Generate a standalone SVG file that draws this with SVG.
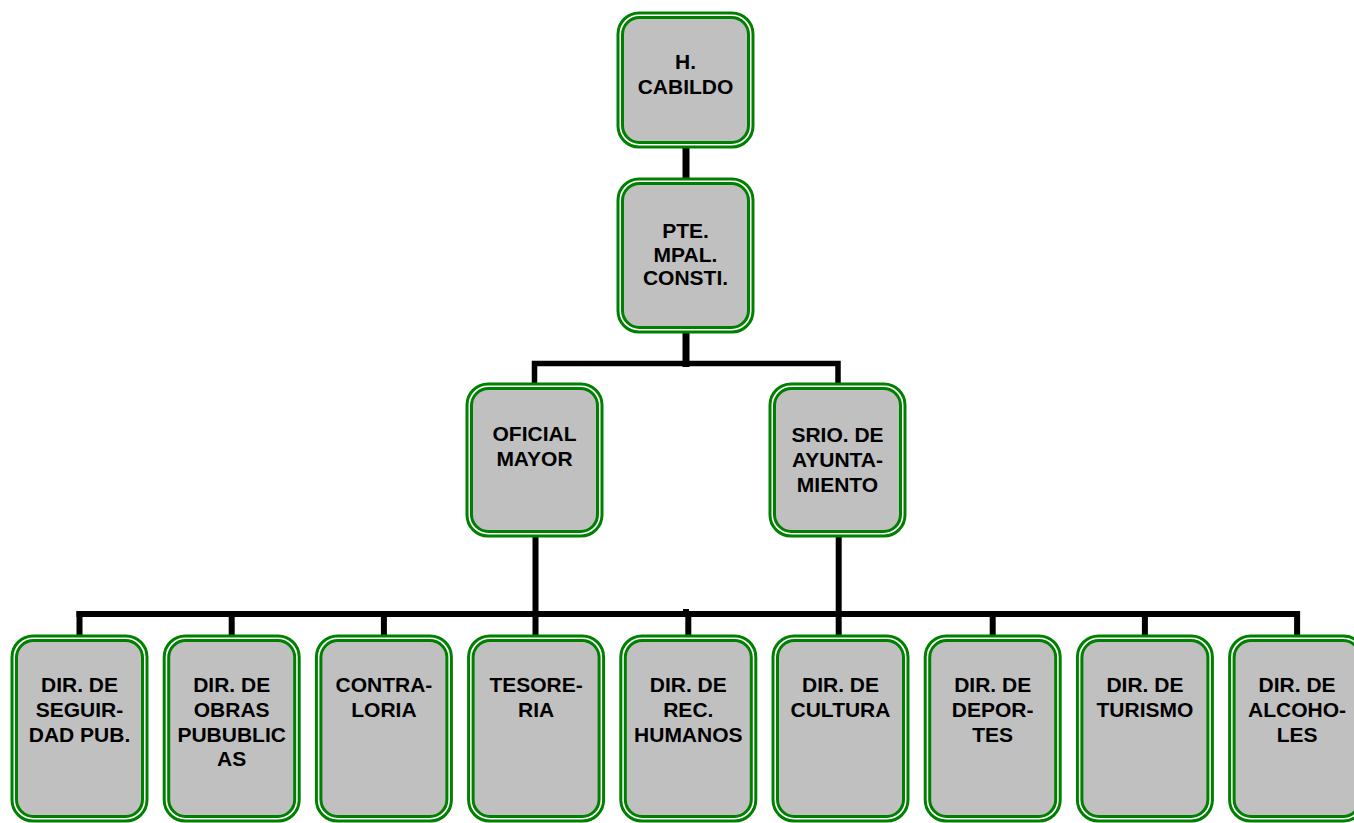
<svg xmlns="http://www.w3.org/2000/svg" width="1354" height="823" viewBox="0 0 1354 823">
<style>
.o{fill:#ffffff;stroke:#008000;stroke-width:3}
.i{fill:#c0c0c0;stroke:#008000;stroke-width:3}
.t{font-family:"Liberation Sans",Arial,sans-serif;font-weight:bold;font-size:21px;fill:#000;text-anchor:middle}
.c{stroke:#000;fill:none;stroke-linecap:butt}
</style>
<rect width="1354" height="823" fill="#fff"/>
<g id="connectors">
<line class="c" x1="686" y1="146" x2="686" y2="180" stroke-width="7"/>
<line class="c" x1="686" y1="331" x2="686" y2="367" stroke-width="7"/>
<polyline class="c" points="534.5,385 534.5,363.5 838,363.5 838,385" stroke-width="5.5"/>
<line class="c" x1="535.5" y1="535" x2="535.5" y2="637" stroke-width="6"/>
<line class="c" x1="838.7" y1="535" x2="838.7" y2="637" stroke-width="6"/>
<line class="c" x1="76.5" y1="614" x2="1300" y2="614" stroke-width="6"/>
<rect x="683" y="609" width="6" height="6" fill="#000"/>
<line class="c" x1="79.5" y1="611" x2="79.5" y2="637" stroke-width="6"/>
<line class="c" x1="231.7" y1="611" x2="231.7" y2="637" stroke-width="6"/>
<line class="c" x1="383.9" y1="611" x2="383.9" y2="637" stroke-width="6"/>
<line class="c" x1="688.3" y1="611" x2="688.3" y2="637" stroke-width="6"/>
<line class="c" x1="992.7" y1="611" x2="992.7" y2="637" stroke-width="6"/>
<line class="c" x1="1144.9" y1="611" x2="1144.9" y2="637" stroke-width="6"/>
<line class="c" x1="1297.1" y1="611" x2="1297.1" y2="637" stroke-width="6"/>
</g>
<g id="cabildo">
<rect class="o" x="618" y="13" width="135" height="134" rx="21"/>
<rect class="i" x="622.5" y="17.5" width="126" height="125" rx="17"/>
<text class="t" x="685.5" y="69">H.</text>
<text class="t" x="685.5" y="94">CABILDO</text>
</g>
<g id="pte">
<rect class="o" x="618" y="179" width="135" height="153" rx="21"/>
<rect class="i" x="622.5" y="183.5" width="126" height="144" rx="17"/>
<text class="t" x="685.5" y="238">PTE.</text>
<text class="t" x="685.5" y="261.5">MPAL.</text>
<text class="t" x="685.5" y="285">CONSTI.</text>
</g>
<g id="oficial">
<rect class="o" x="467" y="384" width="135" height="152" rx="21"/>
<rect class="i" x="471.5" y="388.5" width="126" height="143" rx="17"/>
<text class="t" x="534.5" y="441">OFICIAL</text>
<text class="t" x="534.5" y="466">MAYOR</text>
</g>
<g id="srio">
<rect class="o" x="770" y="384" width="135" height="152" rx="21"/>
<rect class="i" x="774.5" y="388.5" width="126" height="143" rx="17"/>
<text class="t" x="837.5" y="442">SRIO. DE</text>
<text class="t" x="837.5" y="467">AYUNTA-</text>
<text class="t" x="837.5" y="492">MIENTO</text>
</g>
<g id="seguridad">
<rect class="o" x="12" y="636" width="135" height="185" rx="21"/>
<rect class="i" x="16.5" y="640.5" width="126" height="176" rx="17"/>
<text class="t" x="79.5" y="692">DIR. DE</text>
<text class="t" x="79.5" y="717">SEGUIR-</text>
<text class="t" x="79.5" y="742">DAD PUB.</text>
</g>
<g id="obras">
<rect class="o" x="164.2" y="636" width="135" height="185" rx="21"/>
<rect class="i" x="168.7" y="640.5" width="126" height="176" rx="17"/>
<text class="t" x="231.7" y="692">DIR. DE</text>
<text class="t" x="231.7" y="717">OBRAS</text>
<text class="t" x="231.7" y="742">PUBUBLIC</text>
<text class="t" x="231.7" y="766">AS</text>
</g>
<g id="contraloria">
<rect class="o" x="316.4" y="636" width="135" height="185" rx="21"/>
<rect class="i" x="320.9" y="640.5" width="126" height="176" rx="17"/>
<text class="t" x="383.9" y="692">CONTRA-</text>
<text class="t" x="383.9" y="717">LORIA</text>
</g>
<g id="tesoreria">
<rect class="o" x="468.6" y="636" width="135" height="185" rx="21"/>
<rect class="i" x="473.1" y="640.5" width="126" height="176" rx="17"/>
<text class="t" x="536.1" y="692">TESORE-</text>
<text class="t" x="536.1" y="717">RIA</text>
</g>
<g id="recursos">
<rect class="o" x="620.8" y="636" width="135" height="185" rx="21"/>
<rect class="i" x="625.3" y="640.5" width="126" height="176" rx="17"/>
<text class="t" x="688.3" y="692">DIR. DE</text>
<text class="t" x="688.3" y="717">REC.</text>
<text class="t" x="688.3" y="742">HUMANOS</text>
</g>
<g id="cultura">
<rect class="o" x="773" y="636" width="135" height="185" rx="21"/>
<rect class="i" x="777.5" y="640.5" width="126" height="176" rx="17"/>
<text class="t" x="840.5" y="692">DIR. DE</text>
<text class="t" x="840.5" y="717">CULTURA</text>
</g>
<g id="deportes">
<rect class="o" x="925.2" y="636" width="135" height="185" rx="21"/>
<rect class="i" x="929.7" y="640.5" width="126" height="176" rx="17"/>
<text class="t" x="992.7" y="692">DIR. DE</text>
<text class="t" x="992.7" y="717">DEPOR-</text>
<text class="t" x="992.7" y="742">TES</text>
</g>
<g id="turismo">
<rect class="o" x="1077.4" y="636" width="135" height="185" rx="21"/>
<rect class="i" x="1081.9" y="640.5" width="126" height="176" rx="17"/>
<text class="t" x="1144.9" y="692">DIR. DE</text>
<text class="t" x="1144.9" y="717">TURISMO</text>
</g>
<g id="alcoholes">
<rect class="o" x="1229.6" y="636" width="135" height="185" rx="21"/>
<rect class="i" x="1234.1" y="640.5" width="126" height="176" rx="17"/>
<text class="t" x="1297.1" y="692">DIR. DE</text>
<text class="t" x="1297.1" y="717">ALCOHO-</text>
<text class="t" x="1297.1" y="742">LES</text>
</g>
</svg>
